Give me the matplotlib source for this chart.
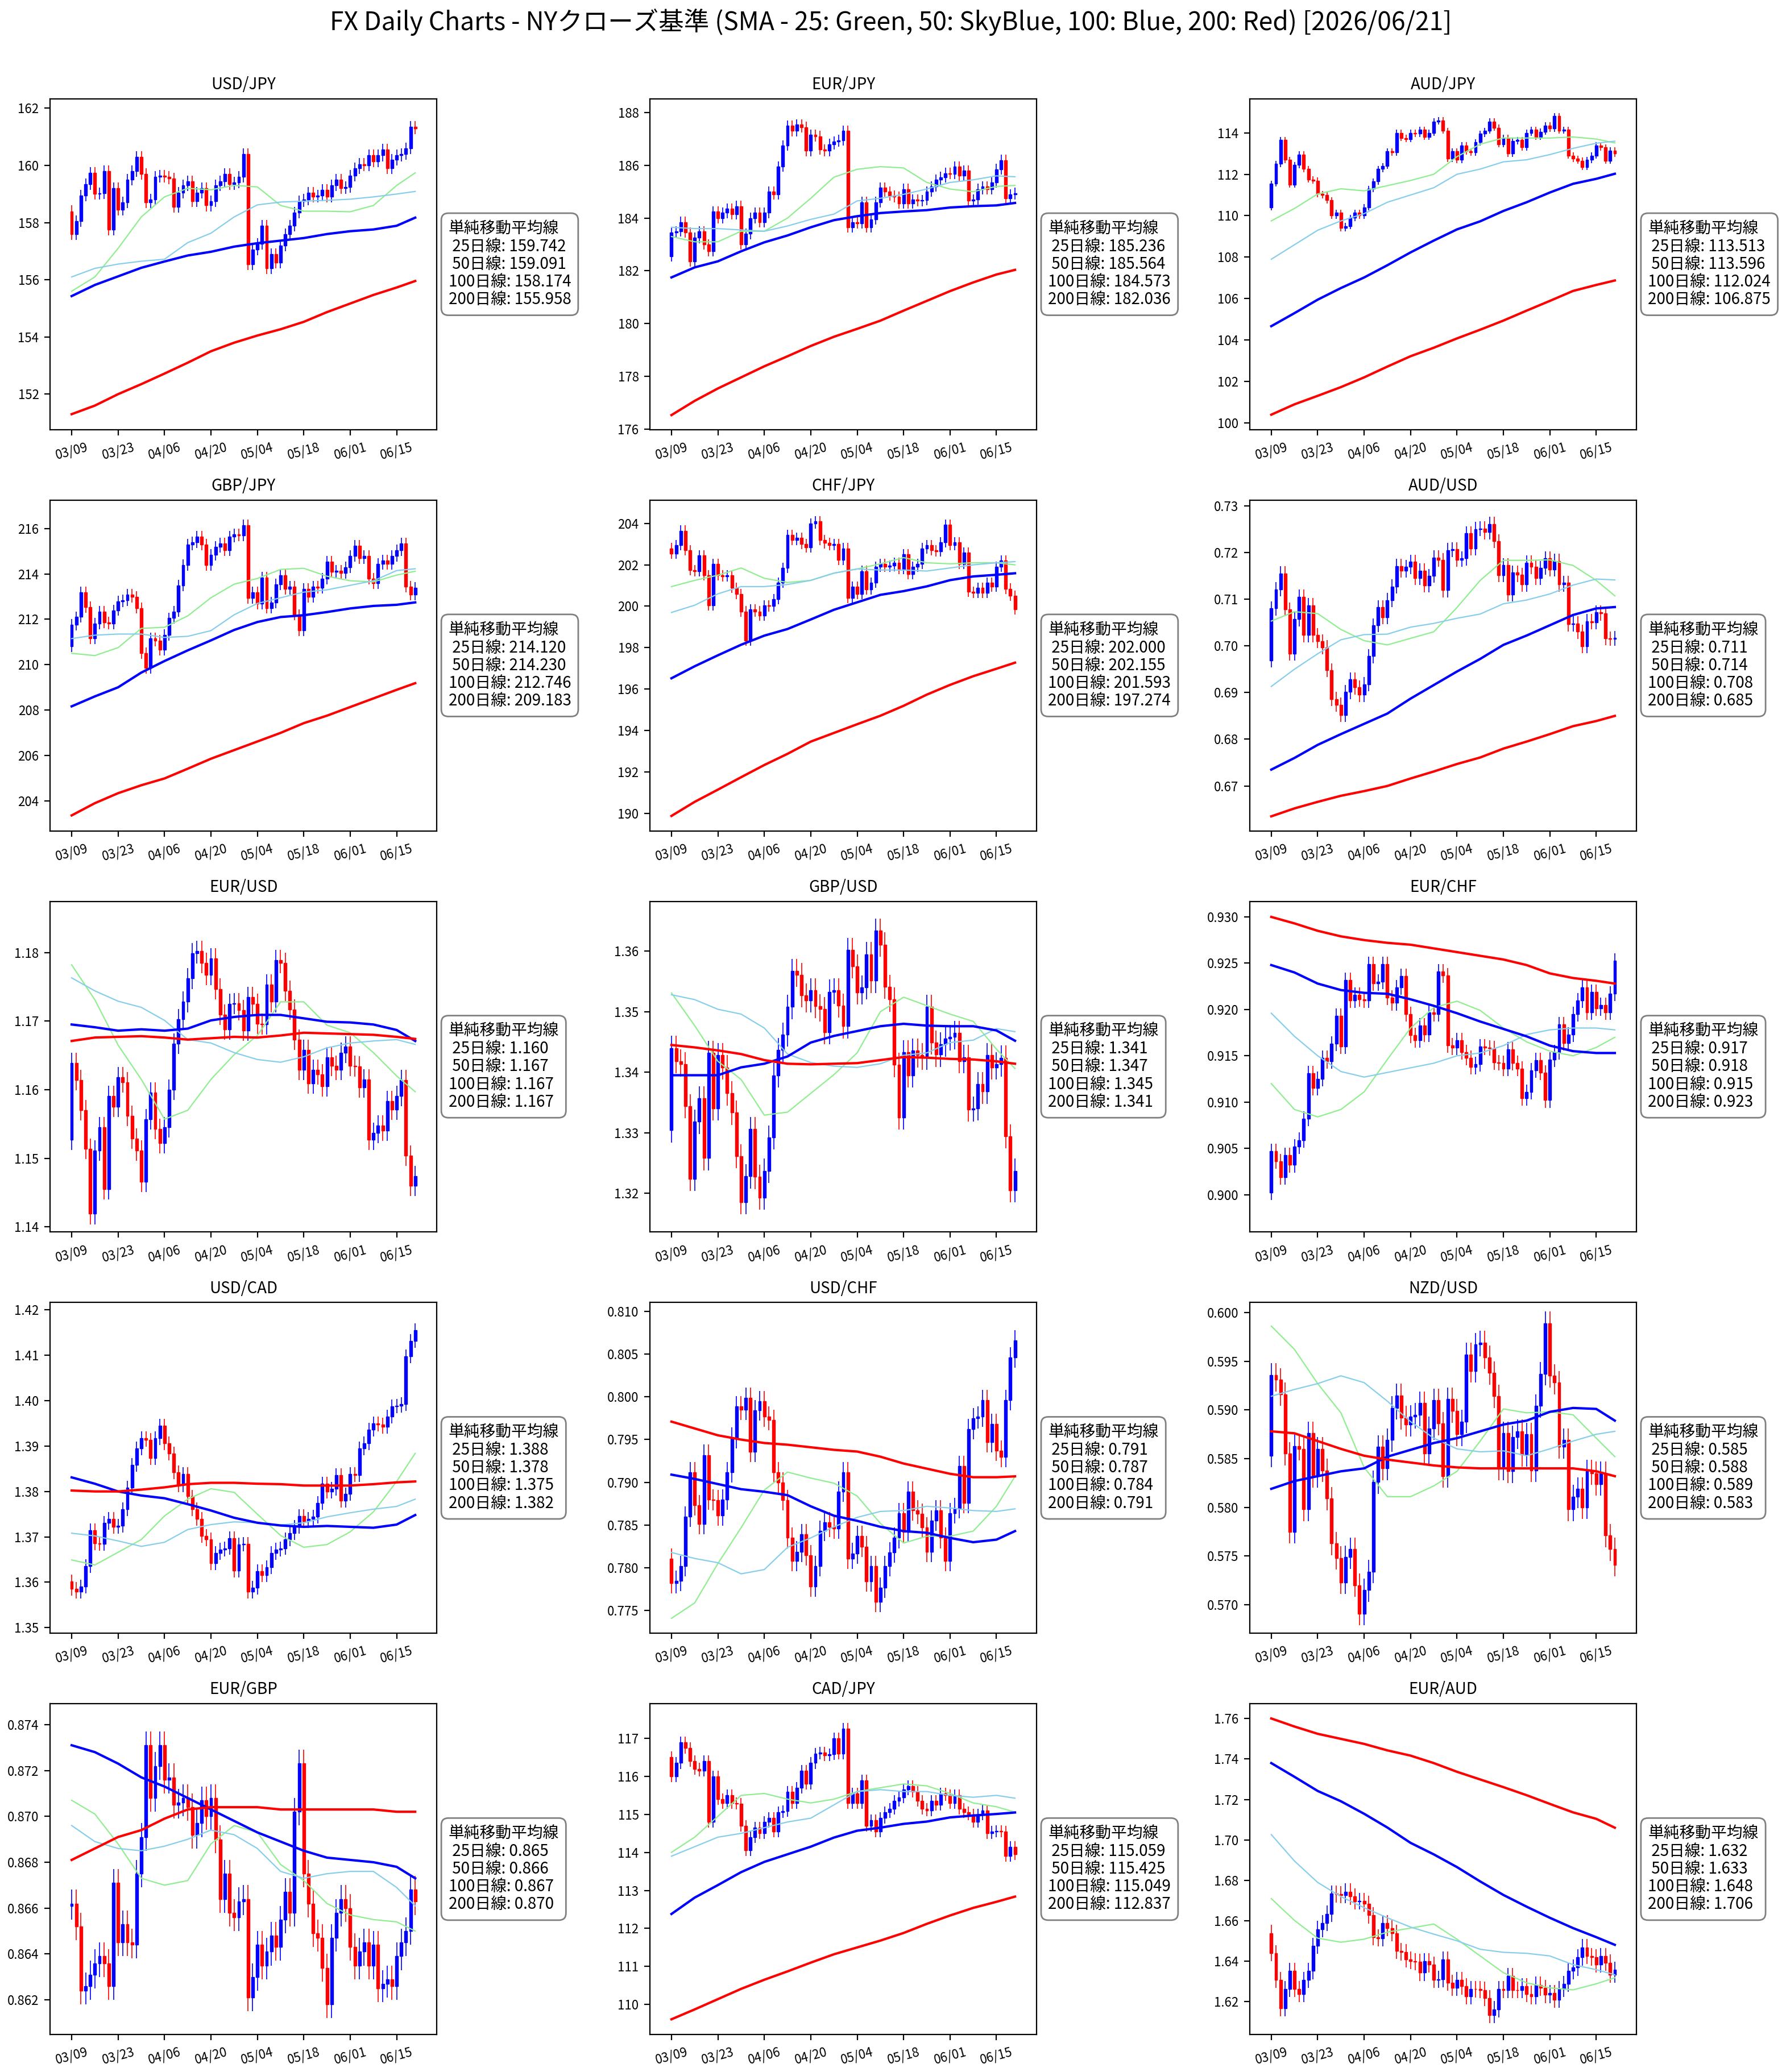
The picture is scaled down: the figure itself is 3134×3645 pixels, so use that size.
import matplotlib.pyplot as plt
import numpy as np

plt.rcParams['font.family'] = ['Noto Sans CJK JP', 'DejaVu Sans']

title = "FX Daily Charts - NYクローズ基準 (SMA - 25: Green, 50: SkyBlue, 100: Blue, 200: Red) [2026/06/21]"

# x axis: 75 trading days, labels every 10 days
date_ticks = [0, 10, 20, 30, 40, 50, 60, 70]
date_labels = ["03/09", "03/23", "04/06", "04/20", "05/04", "05/18", "06/01", "06/15"]

# SMA values read every 5 trading days (plus the last day)
sma_x = [0, 5, 10, 15, 20, 25, 30, 35, 40, 45, 50, 55, 60, 65, 70, 74]

pairs = ["USD/JPY", "EUR/JPY", "AUD/JPY", "GBP/JPY", "CHF/JPY", "AUD/USD", "EUR/USD", "GBP/USD",
         "EUR/CHF", "USD/CAD", "USD/CHF", "NZD/USD", "EUR/GBP", "CAD/JPY", "EUR/AUD"]

# open of the first candle, then daily closes
first_open = [158.4, 182.55, 110.4, 210.8, 202.8, 0.6969, 1.1527, 1.3304,
              0.9002, 1.3602, 0.7811, 0.5853, 0.8661, 116.5, 1.6538]

usdjpy_close = [157.6, 158.05, 158.95, 159.35, 159.75, 159.0, 159.02, 159.8, 157.75, 159.2,
                158.45, 158.7, 159.5, 159.8, 160.3, 159.7, 158.7, 158.8, 159.6, 159.65,
                159.6, 159.55, 158.55, 159.05, 159.3, 159.45, 158.75, 159.05, 159.2, 158.6,
                158.75, 159.3, 159.45, 159.7, 159.35, 159.4, 159.6, 160.4, 156.55, 157.05,
                157.25, 157.9, 156.4, 156.9, 156.6, 157.2, 157.6, 157.9, 158.35, 158.75,
                158.8, 159.05, 158.9, 158.95, 159.15, 158.9, 159.3, 159.5, 159.2, 159.25,
                159.65, 159.9, 160.05, 160.0, 160.35, 160.15, 160.35, 160.55, 159.9, 160.2,
                160.35, 160.4, 160.6, 161.35, 161.3]
eurjpy_close = [183.45, 183.5, 183.85, 183.45, 182.35, 183.25, 183.5, 183.0, 182.75, 184.25,
                184.0, 184.2, 184.35, 184.15, 184.45, 183.0, 183.4, 184.0, 184.2, 183.85,
                184.2, 185.0, 184.9, 185.95, 186.75, 187.5, 187.3, 187.55, 187.45, 186.55,
                187.15, 187.1, 186.6, 186.55, 186.8, 186.9, 186.95, 187.3, 183.65, 183.85,
                183.8, 184.6, 183.65, 183.95, 184.6, 185.15, 185.0, 184.85, 184.8, 184.55,
                185.1, 184.55, 184.7, 184.65, 184.68, 185.0, 185.2, 185.45, 185.55, 185.7,
                185.68, 185.95, 185.6, 185.8, 184.65, 184.7, 185.1, 185.2, 185.1, 185.35,
                185.85, 186.2, 184.75, 184.9, 184.95]
audjpy_close = [111.55, 112.5, 113.65, 112.7, 111.5, 112.45, 112.95, 112.25, 111.75, 111.7,
                111.05, 111.0, 110.75, 110.0, 110.15, 109.4, 109.5, 109.9, 110.15, 110.0,
                110.4, 111.3, 111.65, 112.25, 112.4, 113.1, 113.05, 114.0, 113.75, 113.7,
                114.0, 113.95, 114.15, 113.8, 114.0, 114.55, 114.6, 114.1, 112.75, 113.1,
                112.7, 113.4, 113.1, 113.05, 113.55, 113.95, 114.1, 114.55, 114.25, 113.45,
                113.75, 113.0, 113.6, 113.65, 113.3, 114.0, 114.15, 113.8, 114.05, 114.35,
                114.2, 114.8, 114.1, 114.15, 112.9, 112.75, 112.65, 112.35, 112.7, 112.9,
                113.4, 113.3, 112.65, 113.15, 113.0]
gbpjpy_close = [211.75, 212.1, 213.2, 212.55, 211.15, 211.8, 212.35, 211.85, 211.8, 212.4,
                212.8, 212.85, 213.1, 213.0, 212.5, 210.5, 209.85, 211.15, 211.05, 210.65,
                211.3, 212.05, 212.35, 213.5, 214.4, 215.3, 215.4, 215.65, 215.3, 214.4,
                214.85, 215.2, 215.35, 215.05, 215.65, 215.75, 215.7, 216.15, 212.95, 213.2,
                212.7, 213.85, 212.5, 212.75, 213.55, 213.95, 213.35, 213.45, 212.2, 211.5,
                213.35, 213.0, 213.45, 213.4, 213.8, 214.55, 214.1, 214.15, 214.05, 214.3,
                214.8, 215.25, 214.7, 214.8, 213.8, 213.6, 214.45, 214.6, 214.45, 214.8,
                215.05, 215.35, 213.45, 213.1, 213.4]
chfjpy_close = [202.55, 202.95, 203.65, 202.7, 201.75, 201.7, 202.45, 201.5, 200.05, 202.05,
                201.5, 201.45, 201.5, 200.9, 200.6, 199.75, 198.35, 199.85, 199.75, 199.55,
                200.05, 200.0, 200.35, 201.15, 201.85, 203.45, 203.2, 203.3, 203.0, 202.85,
                204.0, 204.1, 203.2, 203.05, 202.95, 203.0, 202.25, 202.8, 200.4, 200.95,
                200.6, 201.7, 200.8, 201.15, 201.9, 202.05, 201.9, 201.95, 202.1, 201.8,
                202.5, 201.55, 201.9, 202.05, 202.8, 202.95, 202.7, 202.65, 203.1, 203.95,
                202.95, 203.1, 202.05, 202.6, 200.7, 200.65, 200.9, 200.65, 201.15, 200.95,
                201.9, 202.2, 200.85, 200.5, 199.85]
audusd_close = [0.7080, 0.7121, 0.7155, 0.7078, 0.6983, 0.7057, 0.7105, 0.7023, 0.7087, 0.7023,
                0.7010, 0.6997, 0.6948, 0.6886, 0.6874, 0.6852, 0.6901, 0.6928, 0.6911, 0.6895,
                0.6918, 0.6978, 0.7044, 0.7083, 0.7061, 0.7098, 0.7127, 0.7171, 0.7161, 0.7169,
                0.7180, 0.7145, 0.7161, 0.7129, 0.7150, 0.7189, 0.7184, 0.7119, 0.7205, 0.7207,
                0.7184, 0.7187, 0.7241, 0.7208, 0.7250, 0.7251, 0.7243, 0.7261, 0.7224, 0.7151,
                0.7173, 0.7110, 0.7157, 0.7152, 0.7131, 0.7178, 0.7169, 0.7145, 0.7167, 0.7187,
                0.7163, 0.7182, 0.7131, 0.7135, 0.7046, 0.7048, 0.7030, 0.6999, 0.7053, 0.7050,
                0.7072, 0.7069, 0.7016, 0.7015, 0.7017]
eurusd_close = [1.1639, 1.1614, 1.1570, 1.1514, 1.1419, 1.1511, 1.1545, 1.1455, 1.1591, 1.1575,
                1.1618, 1.1611, 1.1562, 1.1529, 1.1511, 1.1466, 1.1557, 1.1596, 1.1543, 1.1522,
                1.1545, 1.1600, 1.1667, 1.1703, 1.1728, 1.1762, 1.1799, 1.1802, 1.1785, 1.1767,
                1.1791, 1.1747, 1.1709, 1.1688, 1.1725, 1.1726, 1.1716, 1.1686, 1.1735, 1.1725,
                1.1696, 1.1695, 1.1753, 1.1728, 1.1789, 1.1785, 1.1744, 1.1717, 1.1673, 1.1629,
                1.1658, 1.1609, 1.1629, 1.1622, 1.1605, 1.1647, 1.1635, 1.1629, 1.1654, 1.1663,
                1.1635, 1.1634, 1.1603, 1.1615, 1.1527, 1.1537, 1.1548, 1.1540, 1.1583, 1.1571,
                1.1591, 1.1614, 1.1504, 1.1460, 1.1474]
gbpusd_close = [1.3440, 1.3418, 1.3413, 1.3344, 1.3224, 1.3318, 1.3357, 1.3258, 1.3432, 1.3340,
                1.3428, 1.3408, 1.3365, 1.3333, 1.3261, 1.3185, 1.3228, 1.3306, 1.3227, 1.3193,
                1.3237, 1.3292, 1.3395, 1.3437, 1.3462, 1.3508, 1.3567, 1.3561, 1.3527, 1.3519,
                1.3535, 1.3509, 1.3504, 1.3466, 1.3533, 1.3535, 1.3510, 1.3476, 1.3602, 1.3575,
                1.3532, 1.3540, 1.3595, 1.3551, 1.3634, 1.3611, 1.3541, 1.3520, 1.3412, 1.3325,
                1.3433, 1.3395, 1.3436, 1.3428, 1.3424, 1.3508, 1.3449, 1.3429, 1.3446, 1.3456,
                1.3458, 1.3465, 1.3418, 1.3425, 1.3338, 1.3340, 1.3380, 1.3368, 1.3428, 1.3408,
                1.3413, 1.3424, 1.3294, 1.3205, 1.3237]
eurchf_close = [0.9047, 0.9036, 0.9019, 0.9043, 0.9032, 0.9052, 0.9059, 0.9082, 0.9131, 0.9115,
                0.9125, 0.9148, 0.9144, 0.9163, 0.9193, 0.9160, 0.9232, 0.9210, 0.9216, 0.9211,
                0.9210, 0.9249, 0.9228, 0.9230, 0.9249, 0.9213, 0.9207, 0.9224, 0.9236, 0.9195,
                0.9172, 0.9167, 0.9183, 0.9173, 0.9197, 0.9195, 0.9241, 0.9237, 0.9161, 0.9159,
                0.9167, 0.9154, 0.9148, 0.9138, 0.9141, 0.9160, 0.9159, 0.9158, 0.9143, 0.9142,
                0.9136, 0.9157, 0.9142, 0.9136, 0.9104, 0.9111, 0.9134, 0.9145, 0.9132, 0.9102,
                0.9146, 0.9154, 0.9184, 0.9164, 0.9173, 0.9195, 0.9210, 0.9224, 0.9197, 0.9219,
                0.9201, 0.9205, 0.9197, 0.9217, 0.9253]
usdcad_close = [1.3586, 1.3579, 1.3591, 1.3636, 1.3714, 1.3686, 1.3684, 1.3731, 1.3739, 1.3722,
                1.3725, 1.3761, 1.3809, 1.3858, 1.3895, 1.3917, 1.3914, 1.3873, 1.3917, 1.3945,
                1.3906, 1.3884, 1.3842, 1.3813, 1.3839, 1.3789, 1.3761, 1.3739, 1.3702, 1.3694,
                1.3642, 1.3664, 1.3672, 1.3675, 1.3697, 1.3625, 1.3683, 1.3685, 1.3579, 1.3588,
                1.3624, 1.3616, 1.3633, 1.3664, 1.3672, 1.3675, 1.3694, 1.3708, 1.3722, 1.3746,
                1.3735, 1.3740, 1.3744, 1.3775, 1.3817, 1.3800, 1.3806, 1.3836, 1.3780, 1.3794,
                1.3839, 1.3836, 1.3895, 1.3906, 1.3936, 1.3950, 1.3947, 1.3943, 1.3965, 1.3987,
                1.3989, 1.3992, 1.4098, 1.4131, 1.4155]
usdchf_close = [0.7782, 0.7785, 0.7802, 0.7860, 0.7912, 0.7873, 0.7851, 0.7932, 0.7880, 0.7879,
                0.7861, 0.7880, 0.7912, 0.7952, 0.7989, 0.7985, 0.7999, 0.7936, 0.7984, 0.7995,
                0.7977, 0.7973, 0.7912, 0.7900, 0.7879, 0.7835, 0.7808, 0.7819, 0.7839, 0.7815,
                0.7778, 0.7802, 0.7843, 0.7853, 0.7848, 0.7846, 0.7889, 0.7912, 0.7811, 0.7817,
                0.7837, 0.7825, 0.7784, 0.7802, 0.7760, 0.7777, 0.7802, 0.7818, 0.7835, 0.7864,
                0.7842, 0.7889, 0.7867, 0.7863, 0.7847, 0.7819, 0.7855, 0.7867, 0.7835, 0.7808,
                0.7864, 0.7870, 0.7919, 0.7876, 0.7962, 0.7975, 0.7977, 0.7996, 0.7947, 0.7968,
                0.7937, 0.7930, 0.7996, 0.8046, 0.8066]
nzdusd_close = [0.5936, 0.5931, 0.5916, 0.5855, 0.5775, 0.5863, 0.5860, 0.5798, 0.5876, 0.5832,
                0.5860, 0.5838, 0.5809, 0.5763, 0.5748, 0.5723, 0.5749, 0.5757, 0.5720, 0.5691,
                0.5715, 0.5734, 0.5826, 0.5862, 0.5840, 0.5869, 0.5902, 0.5915, 0.5892, 0.5885,
                0.5893, 0.5895, 0.5907, 0.5855, 0.5881, 0.5910, 0.5886, 0.5832, 0.5911, 0.5899,
                0.5875, 0.5888, 0.5957, 0.5940, 0.5967, 0.5969, 0.5954, 0.5938, 0.5914, 0.5840,
                0.5876, 0.5837, 0.5872, 0.5878, 0.5854, 0.5875, 0.5838, 0.5904, 0.5937, 0.5989,
                0.5935, 0.5928, 0.5862, 0.5869, 0.5798, 0.5811, 0.5819, 0.5800, 0.5837, 0.5835,
                0.5824, 0.5835, 0.5771, 0.5757, 0.5741]
eurgbp_close = [0.8662, 0.8652, 0.8624, 0.8626, 0.8631, 0.8636, 0.8639, 0.8636, 0.8626, 0.8671,
                0.8645, 0.8653, 0.8645, 0.8644, 0.8675, 0.8691, 0.8731, 0.8708, 0.8722, 0.8731,
                0.8716, 0.8717, 0.8705, 0.8706, 0.8708, 0.8704, 0.8692, 0.8697, 0.8707, 0.8700,
                0.8708, 0.8690, 0.8664, 0.8675, 0.8658, 0.8656, 0.8663, 0.8664, 0.8621, 0.8630,
                0.8644, 0.8635, 0.8641, 0.8648, 0.8643, 0.8655, 0.8667, 0.8658, 0.8702, 0.8723,
                0.8675, 0.8662, 0.8649, 0.8647, 0.8634, 0.8618, 0.8647, 0.8658, 0.8664, 0.8660,
                0.8643, 0.8635, 0.8641, 0.8645, 0.8635, 0.8644, 0.8625, 0.8627, 0.8629, 0.8626,
                0.8639, 0.8645, 0.8650, 0.8668, 0.8663]
cadjpy_close = [116.0, 116.35, 116.9, 116.75, 116.4, 116.2, 116.15, 116.4, 114.8, 116.0,
                115.4, 115.3, 115.5, 115.3, 115.28, 114.7, 114.05, 114.4, 114.65, 114.5,
                114.8, 114.9, 114.55, 115.05, 115.08, 115.6, 115.3, 115.7, 116.15, 115.8,
                116.35, 116.6, 116.62, 116.55, 116.58, 117.0, 116.6, 117.25, 115.3, 115.55,
                115.3, 115.9, 114.7, 114.85, 114.55, 114.9, 115.05, 115.15, 115.35, 115.45,
                115.65, 115.75, 115.6, 115.35, 115.15, 115.1, 115.35, 115.25, 115.55, 115.5,
                115.3, 115.5, 115.15, 115.05, 115.0, 114.8, 115.0, 115.1, 114.5, 114.55,
                114.57, 114.55, 113.9, 114.15, 113.95]
euraud_close = [1.6438, 1.6307, 1.6166, 1.6262, 1.6350, 1.6262, 1.6237, 1.6307, 1.6350, 1.6475,
                1.6558, 1.6588, 1.6634, 1.6734, 1.6730, 1.6727, 1.6744, 1.6719, 1.6694, 1.6697,
                1.6684, 1.6626, 1.6518, 1.6513, 1.6588, 1.6563, 1.6538, 1.6450, 1.6443, 1.6408,
                1.6400, 1.6395, 1.6342, 1.6400, 1.6382, 1.6307, 1.6310, 1.6408, 1.6292, 1.6267,
                1.6307, 1.6274, 1.6224, 1.6262, 1.6260, 1.6257, 1.6217, 1.6131, 1.6161, 1.6262,
                1.6257, 1.6325, 1.6257, 1.6255, 1.6274, 1.6237, 1.6224, 1.6282, 1.6267, 1.6232,
                1.6242, 1.6207, 1.6262, 1.6287, 1.6350, 1.6367, 1.6418, 1.6468, 1.6425, 1.6418,
                1.6382, 1.6425, 1.6392, 1.6332, 1.6357]

usdjpy_sma25 = [155.6, 156.1, 157.1, 158.2, 158.9, 159.2, 159.15, 159.3, 159.25, 158.6, 158.4, 158.4, 158.38, 158.6, 159.3, 159.742]
usdjpy_sma50 = [156.1, 156.4, 156.55, 156.65, 156.72, 157.3, 157.63, 158.2, 158.62, 158.72, 158.75, 158.78, 158.82, 158.9, 159.0, 159.091]
usdjpy_sma100 = [155.43, 155.82, 156.12, 156.42, 156.64, 156.85, 156.98, 157.16, 157.28, 157.37, 157.46, 157.6, 157.7, 157.76, 157.89, 158.174]
usdjpy_sma200 = [151.3, 151.6, 152.0, 152.35, 152.72, 153.1, 153.5, 153.8, 154.05, 154.27, 154.53, 154.87, 155.17, 155.47, 155.73, 155.958]

eurjpy_sma25 = [183.3, 183.1, 183.1, 183.5, 183.5, 184.0, 184.75, 185.55, 185.85, 185.95, 185.9, 185.35, 185.1, 185.0, 185.2, 185.236]
eurjpy_sma50 = [183.65, 183.6, 183.6, 183.55, 183.5, 183.7, 183.95, 184.15, 184.65, 184.75, 184.9, 185.1, 185.35, 185.45, 185.6, 185.564]
eurjpy_sma100 = [181.75, 182.13, 182.36, 182.74, 183.08, 183.34, 183.65, 183.92, 184.07, 184.19, 184.25, 184.3, 184.4, 184.45, 184.48, 184.573]
eurjpy_sma200 = [176.53, 177.07, 177.54, 177.96, 178.38, 178.76, 179.15, 179.5, 179.8, 180.11, 180.49, 180.86, 181.23, 181.56, 181.86, 182.036]

audjpy_sma25 = [109.75, 110.35, 111.05, 111.3, 111.2, 111.45, 111.7, 112.0, 112.85, 113.45, 113.75, 113.75, 113.75, 113.8, 113.7, 113.513]
audjpy_sma50 = [107.9, 108.6, 109.3, 109.75, 110.1, 110.65, 111.0, 111.35, 112.0, 112.25, 112.6, 112.7, 112.95, 113.25, 113.5, 113.596]
audjpy_sma100 = [104.67, 105.3, 105.95, 106.51, 107.02, 107.61, 108.23, 108.8, 109.34, 109.73, 110.23, 110.65, 111.12, 111.54, 111.78, 112.024]
audjpy_sma200 = [100.4, 100.9, 101.31, 101.73, 102.2, 102.72, 103.22, 103.63, 104.08, 104.5, 104.94, 105.42, 105.89, 106.37, 106.66, 106.875]

gbpjpy_sma25 = [210.5, 210.4, 210.75, 211.6, 211.65, 212.15, 212.95, 213.55, 213.8, 214.2, 214.25, 213.9, 213.7, 213.65, 213.95, 214.120]
gbpjpy_sma50 = [211.15, 211.3, 211.35, 211.35, 211.2, 211.25, 211.5, 212.2, 212.7, 212.95, 213.2, 213.3, 213.5, 213.7, 214.15, 214.230]
gbpjpy_sma100 = [208.16, 208.6, 209.0, 209.65, 210.16, 210.63, 211.07, 211.53, 211.88, 212.1, 212.18, 212.32, 212.48, 212.59, 212.64, 212.746]
gbpjpy_sma200 = [203.35, 203.89, 204.33, 204.68, 204.98, 205.41, 205.85, 206.23, 206.61, 206.99, 207.42, 207.75, 208.13, 208.51, 208.89, 209.183]

chfjpy_sma25 = [200.95, 201.25, 201.5, 201.85, 201.35, 201.15, 201.25, 201.6, 201.8, 202.05, 202.35, 202.1, 202.05, 202.1, 202.1, 202.000]
chfjpy_sma50 = [199.7, 200.05, 200.6, 200.95, 200.95, 201.05, 201.25, 201.6, 201.8, 201.75, 201.75, 201.7, 201.85, 202.0, 202.1, 202.155]
chfjpy_sma100 = [196.52, 197.1, 197.63, 198.14, 198.58, 198.9, 199.36, 199.83, 200.19, 200.55, 200.73, 200.96, 201.26, 201.44, 201.52, 201.593]
chfjpy_sma200 = [189.87, 190.55, 191.14, 191.74, 192.33, 192.87, 193.46, 193.88, 194.3, 194.71, 195.19, 195.73, 196.2, 196.62, 196.98, 197.274]

audusd_sma25 = [0.7053, 0.7073, 0.7069, 0.7035, 0.7011, 0.7002, 0.7016, 0.7030, 0.7082, 0.7140, 0.7183, 0.7183, 0.7184, 0.7172, 0.7140, 0.7107]
audusd_sma50 = [0.6913, 0.6950, 0.6983, 0.7013, 0.7024, 0.7025, 0.7040, 0.7048, 0.7059, 0.7068, 0.7090, 0.7098, 0.7111, 0.7130, 0.7143, 0.7141]
audusd_sma100 = [0.6735, 0.6760, 0.6788, 0.6811, 0.6833, 0.6855, 0.6887, 0.6916, 0.6945, 0.6972, 0.7002, 0.7022, 0.7044, 0.7066, 0.7080, 0.7083]
audusd_sma200 = [0.6635, 0.6652, 0.6666, 0.6679, 0.6689, 0.6700, 0.6716, 0.6731, 0.6747, 0.6761, 0.6780, 0.6795, 0.6811, 0.6828, 0.6839, 0.6850]

eurusd_sma25 = [1.1782, 1.1731, 1.1665, 1.1615, 1.1557, 1.1570, 1.1615, 1.1651, 1.1679, 1.1728, 1.1728, 1.1694, 1.1683, 1.1654, 1.1620, 1.1597]
eurusd_sma50 = [1.1763, 1.1744, 1.1729, 1.1720, 1.1701, 1.1673, 1.1668, 1.1654, 1.1644, 1.1640, 1.1648, 1.1661, 1.1668, 1.1671, 1.1673, 1.1666]
eurusd_sma100 = [1.1695, 1.1691, 1.1686, 1.1688, 1.1686, 1.1689, 1.1701, 1.1706, 1.1709, 1.1709, 1.1704, 1.1699, 1.1698, 1.1695, 1.1687, 1.1671]
eurusd_sma200 = [1.1671, 1.1676, 1.1677, 1.1678, 1.1676, 1.1673, 1.1675, 1.1677, 1.1676, 1.1679, 1.1683, 1.1682, 1.1681, 1.1680, 1.1677, 1.1674]

gbpusd_sma25 = [1.3531, 1.3477, 1.3418, 1.3388, 1.3329, 1.3334, 1.3365, 1.3396, 1.3432, 1.3500, 1.3524, 1.3510, 1.3496, 1.3484, 1.3438, 1.3406]
gbpusd_sma50 = [1.3528, 1.3520, 1.3504, 1.3496, 1.3473, 1.3430, 1.3416, 1.3410, 1.3408, 1.3414, 1.3428, 1.3432, 1.3449, 1.3453, 1.3472, 1.3467]
gbpusd_sma100 = [1.3395, 1.3395, 1.3395, 1.3408, 1.3414, 1.3426, 1.3449, 1.3460, 1.3468, 1.3476, 1.3480, 1.3477, 1.3476, 1.3476, 1.3469, 1.3452]
gbpusd_sma200 = [1.3445, 1.3441, 1.3436, 1.3430, 1.3420, 1.3414, 1.3413, 1.3414, 1.3415, 1.3420, 1.3425, 1.3424, 1.3422, 1.3421, 1.3418, 1.3414]

eurchf_sma25 = [0.9120, 0.9092, 0.9084, 0.9092, 0.9111, 0.9146, 0.9180, 0.9202, 0.9209, 0.9199, 0.9180, 0.9165, 0.9155, 0.9150, 0.9159, 0.9170]
eurchf_sma50 = [0.9196, 0.9171, 0.9150, 0.9133, 0.9127, 0.9132, 0.9137, 0.9142, 0.9150, 0.9153, 0.9161, 0.9173, 0.9178, 0.9180, 0.9180, 0.9178]
eurchf_sma100 = [0.9248, 0.9240, 0.9228, 0.9221, 0.9218, 0.9217, 0.9211, 0.9204, 0.9196, 0.9187, 0.9179, 0.9171, 0.9161, 0.9155, 0.9153, 0.9153]
eurchf_sma200 = [0.9300, 0.9293, 0.9285, 0.9279, 0.9275, 0.9272, 0.9270, 0.9266, 0.9262, 0.9258, 0.9254, 0.9248, 0.9239, 0.9234, 0.9231, 0.9228]

usdcad_sma25 = [1.3649, 1.3638, 1.3666, 1.3694, 1.3746, 1.3783, 1.3806, 1.3798, 1.3750, 1.3703, 1.3677, 1.3683, 1.3711, 1.3755, 1.3822, 1.3884]
usdcad_sma50 = [1.3708, 1.3702, 1.3691, 1.3679, 1.3688, 1.3716, 1.3727, 1.3733, 1.3731, 1.3726, 1.3731, 1.3744, 1.3753, 1.3761, 1.3767, 1.3783]
usdcad_sma100 = [1.3831, 1.3817, 1.3800, 1.3791, 1.3785, 1.3772, 1.3758, 1.3742, 1.3731, 1.3725, 1.3722, 1.3724, 1.3722, 1.3720, 1.3727, 1.3748]
usdcad_sma200 = [1.3802, 1.3800, 1.3800, 1.3804, 1.3809, 1.3816, 1.3819, 1.3819, 1.3817, 1.3816, 1.3813, 1.3813, 1.3813, 1.3816, 1.3820, 1.3822]

usdchf_sma25 = [0.7741, 0.7759, 0.7805, 0.7847, 0.7891, 0.7912, 0.7905, 0.7899, 0.7884, 0.7852, 0.7829, 0.7837, 0.7837, 0.7843, 0.7872, 0.7907]
usdchf_sma50 = [0.7818, 0.7811, 0.7806, 0.7793, 0.7798, 0.7824, 0.7835, 0.7848, 0.7859, 0.7866, 0.7867, 0.7872, 0.7870, 0.7867, 0.7866, 0.7869]
usdchf_sma100 = [0.7909, 0.7904, 0.7898, 0.7892, 0.7889, 0.7885, 0.7872, 0.7861, 0.7855, 0.7848, 0.7843, 0.7841, 0.7835, 0.7830, 0.7833, 0.7843]
usdchf_sma200 = [0.7971, 0.7963, 0.7955, 0.7950, 0.7946, 0.7944, 0.7941, 0.7938, 0.7936, 0.7930, 0.7922, 0.7916, 0.7910, 0.7906, 0.7906, 0.7907]

nzdusd_sma25 = [0.5986, 0.5962, 0.5927, 0.5897, 0.5841, 0.5811, 0.5811, 0.5822, 0.5837, 0.5868, 0.5901, 0.5897, 0.5898, 0.5895, 0.5871, 0.5852]
nzdusd_sma50 = [0.5914, 0.5921, 0.5927, 0.5935, 0.5928, 0.5909, 0.5888, 0.5871, 0.5860, 0.5857, 0.5858, 0.5853, 0.5860, 0.5868, 0.5875, 0.5878]
nzdusd_sma100 = [0.5819, 0.5827, 0.5832, 0.5837, 0.5840, 0.5852, 0.5859, 0.5866, 0.5871, 0.5878, 0.5885, 0.5889, 0.5898, 0.5902, 0.5901, 0.5889]
nzdusd_sma200 = [0.5878, 0.5876, 0.5868, 0.5860, 0.5853, 0.5849, 0.5846, 0.5843, 0.5841, 0.5840, 0.5840, 0.5840, 0.5840, 0.5840, 0.5837, 0.5832]

eurgbp_sma25 = [0.8707, 0.8701, 0.8688, 0.8673, 0.8670, 0.8672, 0.8688, 0.8696, 0.8693, 0.8679, 0.8672, 0.8662, 0.8657, 0.8655, 0.8654, 0.8650]
eurgbp_sma50 = [0.8696, 0.8689, 0.8686, 0.8685, 0.8687, 0.8690, 0.8694, 0.8692, 0.8686, 0.8676, 0.8673, 0.8675, 0.8676, 0.8676, 0.8669, 0.8661]
eurgbp_sma100 = [0.8731, 0.8728, 0.8723, 0.8717, 0.8713, 0.8708, 0.8703, 0.8698, 0.8693, 0.8689, 0.8685, 0.8682, 0.8681, 0.8680, 0.8678, 0.8673]
eurgbp_sma200 = [0.8681, 0.8686, 0.8691, 0.8694, 0.8699, 0.8703, 0.8704, 0.8704, 0.8704, 0.8703, 0.8703, 0.8703, 0.8703, 0.8703, 0.8702, 0.8702]

cadjpy_sma25 = [114.0, 114.4, 114.95, 115.5, 115.55, 115.4, 115.3, 115.4, 115.6, 115.7, 115.8, 115.75, 115.55, 115.3, 115.2, 115.059]
cadjpy_sma50 = [113.9, 114.15, 114.4, 114.5, 114.65, 114.8, 114.9, 115.25, 115.6, 115.65, 115.6, 115.6, 115.5, 115.45, 115.5, 115.425]
cadjpy_sma100 = [112.38, 112.81, 113.14, 113.48, 113.75, 113.95, 114.15, 114.39, 114.57, 114.65, 114.75, 114.81, 114.92, 114.97, 115.01, 115.049]
cadjpy_sma200 = [109.61, 109.87, 110.14, 110.41, 110.65, 110.87, 111.1, 111.32, 111.5, 111.68, 111.88, 112.12, 112.34, 112.54, 112.7, 112.837]

euraud_sma25 = [1.6709, 1.6601, 1.6513, 1.6493, 1.6508, 1.6543, 1.6563, 1.6583, 1.6508, 1.6425, 1.6342, 1.6292, 1.6267, 1.6257, 1.6287, 1.6317]
euraud_sma50 = [1.7026, 1.6895, 1.6789, 1.6719, 1.6664, 1.6614, 1.6568, 1.6533, 1.6500, 1.6458, 1.6443, 1.6438, 1.6425, 1.6382, 1.6357, 1.6332]
euraud_sma100 = [1.7380, 1.7312, 1.7242, 1.7191, 1.7129, 1.7061, 1.6985, 1.6928, 1.6865, 1.6794, 1.6727, 1.6669, 1.6614, 1.6563, 1.6518, 1.6480]
euraud_sma200 = [1.7601, 1.7561, 1.7525, 1.7500, 1.7475, 1.7443, 1.7417, 1.7380, 1.7337, 1.7299, 1.7261, 1.7221, 1.7178, 1.7136, 1.7104, 1.7060]

closes = [usdjpy_close, eurjpy_close, audjpy_close, gbpjpy_close, chfjpy_close, audusd_close,
          eurusd_close, gbpusd_close, eurchf_close, usdcad_close, usdchf_close, nzdusd_close,
          eurgbp_close, cadjpy_close, euraud_close]
sma25 = [usdjpy_sma25, eurjpy_sma25, audjpy_sma25, gbpjpy_sma25, chfjpy_sma25, audusd_sma25,
         eurusd_sma25, gbpusd_sma25, eurchf_sma25, usdcad_sma25, usdchf_sma25, nzdusd_sma25,
         eurgbp_sma25, cadjpy_sma25, euraud_sma25]
sma50 = [usdjpy_sma50, eurjpy_sma50, audjpy_sma50, gbpjpy_sma50, chfjpy_sma50, audusd_sma50,
         eurusd_sma50, gbpusd_sma50, eurchf_sma50, usdcad_sma50, usdchf_sma50, nzdusd_sma50,
         eurgbp_sma50, cadjpy_sma50, euraud_sma50]
sma100 = [usdjpy_sma100, eurjpy_sma100, audjpy_sma100, gbpjpy_sma100, chfjpy_sma100, audusd_sma100,
          eurusd_sma100, gbpusd_sma100, eurchf_sma100, usdcad_sma100, usdchf_sma100, nzdusd_sma100,
          eurgbp_sma100, cadjpy_sma100, euraud_sma100]
sma200 = [usdjpy_sma200, eurjpy_sma200, audjpy_sma200, gbpjpy_sma200, chfjpy_sma200, audusd_sma200,
          eurusd_sma200, gbpusd_sma200, eurchf_sma200, usdcad_sma200, usdchf_sma200, nzdusd_sma200,
          eurgbp_sma200, cadjpy_sma200, euraud_sma200]

# typical wick length beyond the body, per pair
wick = [0.2, 0.2, 0.15, 0.25, 0.25, 0.0015, 0.0015, 0.002,
        0.0008, 0.0015, 0.0012, 0.0012, 0.0006, 0.15, 0.004]

# y ranges as shown
ylims = [(150.76, 162.33), (175.98, 188.52), (99.68, 115.64), (202.67, 217.26), (189.15, 205.13),
         (0.6604, 0.7312), (1.13925, 1.18746), (1.31358, 1.36825), (0.89596, 0.93169),
         (1.34875, 1.42163), (0.77235, 0.81103), (0.56708, 0.60102), (0.86049, 0.87491),
         (109.21, 117.91), (1.6036, 1.7674)]

fig, axes = plt.subplots(5, 3, figsize=(15.67, 18.225), dpi=200)
fig.subplots_adjust(left=0.0281, right=0.9183, bottom=0.0181, top=0.9523, wspace=0.551, hspace=0.213)

for k, ax in enumerate(axes.flat):
    c = np.array(closes[k])
    o = np.concatenate([[first_open[k]], c[:-1]])
    x = np.arange(len(c))
    col = np.where(c >= o, 'blue', 'red')
    hi = np.maximum(o, c) + wick[k]
    lo = np.minimum(o, c) - wick[k]
    ax.vlines(x, lo, hi, colors=col, linewidth=0.6)
    ax.bar(x, c - o, bottom=o, width=0.6, color=col, edgecolor=col, linewidth=0.5)

    ax.plot(sma_x, sma25[k], color='lightgreen', lw=0.8)
    ax.plot(sma_x, sma50[k], color='skyblue', lw=0.8)
    ax.plot(sma_x, sma100[k], color='blue', lw=1.5)
    ax.plot(sma_x, sma200[k], color='red', lw=1.5)

    ax.set_title(pairs[k], fontsize=10)
    ax.set_xlim(-4.65, 78.65)
    ax.set_ylim(ylims[k])
    ax.set_xticks(date_ticks)
    ax.set_xticklabels(date_labels, rotation=15)
    ax.tick_params(labelsize=8)

    txt = ("単純移動平均線\n"
           f" 25日線: {sma25[k][-1]:.3f}\n"
           f" 50日線: {sma50[k][-1]:.3f}\n"
           f"100日線: {sma100[k][-1]:.3f}\n"
           f"200日線: {sma200[k][-1]:.3f}")
    ax.text(1.03, 0.5, txt, transform=ax.transAxes, va='center', ha='left', fontsize=10,
            linespacing=1.05,
            bbox=dict(boxstyle='round,pad=0.45', facecolor='white', edgecolor='gray'))

fig.suptitle(title, fontsize=16, y=0.996, va='top')
fig.savefig('out.png', dpi=200)
